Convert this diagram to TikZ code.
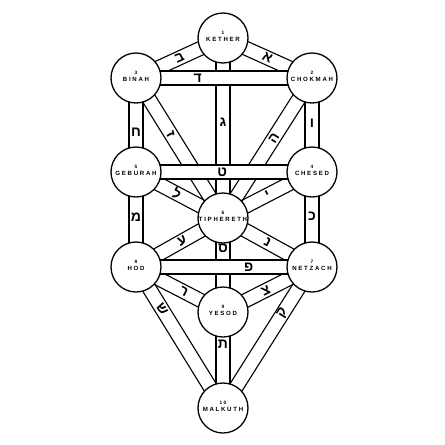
\documentclass[tikz,border=0pt]{standalone}
\usepackage{fontspec}
\usetikzlibrary{calc,backgrounds}
\TeXXeTstate=1
\newfontfamily\sefirafont[LetterSpace=28]{Liberation Sans}
\newfontfamily\hebfont[Script=Hebrew]{Liberation Sans}
\newcommand{\sefnum}[1]{{\fontsize{4.8}{5}\selectfont #1}}
\newcommand{\heb}[1]{{\hebfont\bfseries\beginR #1\endR}}
\tikzset{
  sefira/.style={circle, draw, line width=1.3pt, fill=white, minimum size=50pt, inner sep=0pt},
  sefname/.style={font=\sefirafont\bfseries\fontsize{6.1}{7.2}\selectfont, align=center, inner sep=0pt, yshift=2pt},
  channel/.style={line width=1.1pt},
  letter/.style={font=\fontsize{14}{14}\selectfont, inner sep=0pt}
}
% two parallel lines between two sephiroth
\newcommand{\channel}[2]{%
  \draw[channel] ($(#1)!7pt!90:(#2)$) -- ($(#2)!7pt!-90:(#1)$)
                 ($(#1)!7pt!-90:(#2)$) -- ($(#2)!7pt!90:(#1)$);}
% the same, filled white so that it hides what it crosses
\newcommand{\crosschannel}[2]{%
  \fill[white] ($(#1)!7pt!90:(#2)$) -- ($(#2)!7pt!-90:(#1)$)
               -- ($(#2)!7pt!90:(#1)$) -- ($(#1)!7pt!-90:(#2)$) -- cycle;
  \channel{#1}{#2}}

\begin{document}
\begin{tikzpicture}[x=1pt, y=-1pt]
\useasboundingbox (0,0) rectangle (445,445);
% the ten sephiroth
\node[sefira, label={[sefname]center:\sefnum{1}\\KETHER}] (kether) at (223,38) {};
\node[sefira, label={[sefname]center:\sefnum{2}\\CHOKMAH}] (chokmah) at (312,78) {};
\node[sefira, label={[sefname]center:\sefnum{3}\\BINAH}] (binah) at (136,78) {};
\node[sefira, label={[sefname]center:\sefnum{4}\\CHESED}] (chesed) at (312,172) {};
\node[sefira, label={[sefname]center:\sefnum{5}\\GEBURAH}] (geburah) at (136,172) {};
\node[sefira, label={[sefname]center:\sefnum{6}\\TIPHERETH}] (tiphereth) at (223,218) {};
\node[sefira, label={[sefname]center:\sefnum{7}\\NETZACH}] (netzach) at (312,267) {};
\node[sefira, label={[sefname]center:\sefnum{8}\\HOD}] (hod) at (136,267) {};
\node[sefira, label={[sefname]center:\sefnum{9}\\YESOD}] (yesod) at (223,312) {};
\node[sefira, label={[sefname]center:\sefnum{10}\\MALKUTH}] (malkuth) at (223,408) {};

% the paths
\begin{scope}[on background layer]
  \channel{kether}{chokmah}
  \channel{kether}{binah}
  \channel{kether}{tiphereth}
  \channel{chokmah}{tiphereth}
  \channel{chokmah}{chesed}
  \channel{binah}{tiphereth}
  \channel{binah}{geburah}
  \channel{chesed}{tiphereth}
  \channel{chesed}{netzach}
  \channel{geburah}{tiphereth}
  \channel{geburah}{hod}
  \channel{tiphereth}{netzach}
  \channel{tiphereth}{yesod}
  \channel{tiphereth}{hod}
  \channel{netzach}{yesod}
  \channel{netzach}{malkuth}
  \channel{hod}{yesod}
  \channel{hod}{malkuth}
  \channel{yesod}{malkuth}
  % horizontal paths lie over the others
  \crosschannel{binah}{chokmah}
  \crosschannel{geburah}{chesed}
  \crosschannel{hod}{netzach}
\end{scope}

% letters of the paths
\path (kether.center) -- node[letter, sloped, pos=0.5] {\heb{א}} (chokmah.center);
\path (kether.center) -- node[letter, sloped, pos=0.5] {\heb{ב}} (binah.center);
\path (kether.center) -- node[letter, pos=0.47] {\heb{ג}} (tiphereth.center);
\path (binah.center) -- node[letter, pos=0.35] {\heb{ד}} (chokmah.center);
\path (chokmah.center) -- node[letter, sloped, pos=0.43] {\heb{ה}} (tiphereth.center);
\path (chokmah.center) -- node[letter, pos=0.48] {\heb{ו}} (chesed.center);
\path (binah.center) -- node[letter, sloped, pos=0.4] {\heb{ז}} (tiphereth.center);
\path (binah.center) -- node[letter, pos=0.58] {\heb{ח}} (geburah.center);
\path (geburah.center) -- node[letter, pos=0.49] {\heb{ט}} (chesed.center);
\path (chesed.center) -- node[letter, sloped, pos=0.5] {\heb{י}} (tiphereth.center);
\path (chesed.center) -- node[letter, pos=0.47] {\heb{כ}} (netzach.center);
\path (geburah.center) -- node[letter, sloped, pos=0.47] {\heb{ל}} (tiphereth.center);
\path (geburah.center) -- node[letter, pos=0.48] {\heb{מ}} (hod.center);
\path (tiphereth.center) -- node[letter, sloped, pos=0.5] {\heb{נ}} (netzach.center);
\path (tiphereth.center) -- node[letter, pos=0.32] {\heb{ס}} (yesod.center);
\path (tiphereth.center) -- node[letter, sloped, pos=0.47] {\heb{ע}} (hod.center);
\path (hod.center) -- node[letter, pos=0.64] {\heb{פ}} (netzach.center);
\path (netzach.center) -- node[letter, sloped, pos=0.52] {\heb{צ}} (yesod.center);
\path (netzach.center) -- node[letter, sloped, pos=0.33] {\heb{ק}} (malkuth.center);
\path (hod.center) -- node[letter, sloped, pos=0.55] {\heb{ר}} (yesod.center);
\path (hod.center) -- node[letter, sloped, pos=0.3] {\heb{ש}} (malkuth.center);
\path (yesod.center) -- node[letter, pos=0.34] {\heb{ת}} (malkuth.center);
\end{tikzpicture}
\end{document}
